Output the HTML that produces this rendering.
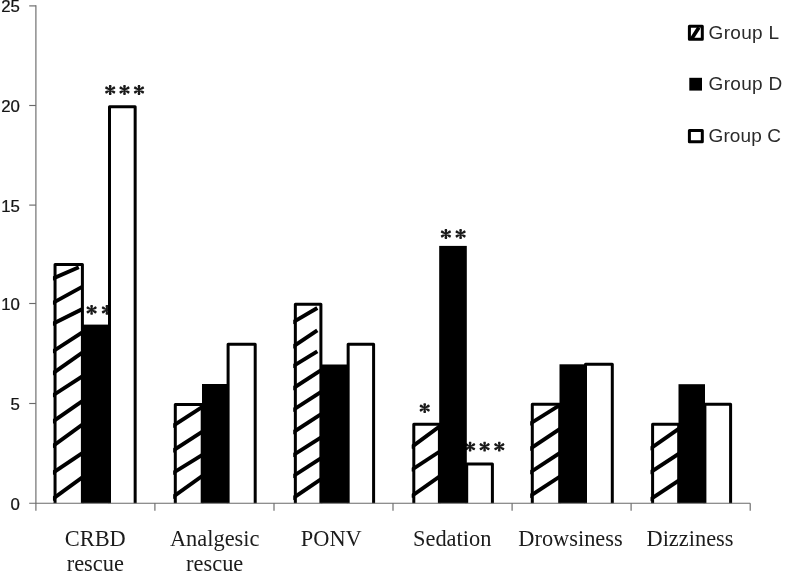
<!DOCTYPE html>
<html><head><meta charset="utf-8"><title>Chart</title>
<style>html,body{margin:0;padding:0;background:#fff;}body{width:785px;height:572px;overflow:hidden;font-family:"Liberation Sans",sans-serif;}svg{display:block;filter:grayscale(1) blur(0.45px);}</style>
</head><body>
<svg width="785" height="572" viewBox="0 0 785 572">
<defs><path id="ast" d="M0.50 0.00 L1.35 -3.60 L1.01 -4.90 L-1.01 -4.90 L-1.35 -3.60 L-0.50 -0.00Z M0.25 -0.43 L-2.96 -3.27 L-4.26 -3.63 L-5.27 -1.87 L-4.31 -0.93 L-0.25 0.43Z M-0.25 -0.43 L-4.31 0.93 L-5.27 1.87 L-4.26 3.63 L-2.96 3.27 L0.25 0.43Z M-0.50 -0.00 L-1.35 3.60 L-1.01 4.90 L1.01 4.90 L1.35 3.60 L0.50 0.00Z M-0.25 0.43 L2.96 3.27 L4.26 3.63 L5.27 1.87 L4.31 0.93 L0.25 -0.43Z M0.25 0.43 L4.31 -0.93 L5.27 -1.87 L4.26 -3.63 L2.96 -3.27 L-0.25 -0.43Z" fill="#1a1a1a"/></defs>
<rect width="785" height="572" fill="#fff"/>
<g font-family="Liberation Sans, sans-serif" font-size="16.1" fill="#151515" stroke="#151515" stroke-width="0.25" text-anchor="end">
<text transform="translate(19.9,509.8) scale(1.045,1)">0</text>
<text transform="translate(19.9,409.8) scale(1.045,1)">5</text>
<text transform="translate(19.9,309.9) scale(1.045,1)">10</text>
<text transform="translate(19.9,211.8) scale(1.045,1)">15</text>
<text transform="translate(19.9,111.8) scale(1.045,1)">20</text>
<text transform="translate(19.9,12.1) scale(1.045,1)">25</text>
</g>
<use href="#ast" x="110.2" y="90.0"/>
<use href="#ast" x="124.5" y="90.0"/>
<use href="#ast" x="139.0" y="90.0"/>
<use href="#ast" x="91.6" y="309.9"/>
<use href="#ast" x="106.9" y="309.9"/>
<use href="#ast" x="445.9" y="234.0"/>
<use href="#ast" x="460.6" y="234.0"/>
<use href="#ast" x="424.7" y="408.1"/>
<use href="#ast" x="470.1" y="446.7"/>
<use href="#ast" x="484.6" y="446.7"/>
<use href="#ast" x="499.3" y="446.7"/>
<rect x="55.05" y="264.40" width="27.35" height="238.80" fill="#fff"/>
<clipPath id="c0"><rect x="52.95" y="264.40" width="29.45" height="238.80"/></clipPath>
<g clip-path="url(#c0)" stroke="#000" stroke-width="3.9">
<line x1="52.05" y1="278.85" x2="78.80" y2="267.25"/>
<line x1="52.05" y1="303.37" x2="83.40" y2="286.18"/>
<line x1="52.05" y1="324.25" x2="83.40" y2="308.60"/>
<line x1="52.05" y1="351.93" x2="83.40" y2="331.54"/>
<line x1="52.05" y1="373.87" x2="83.40" y2="351.81"/>
<line x1="52.05" y1="395.93" x2="83.40" y2="375.54"/>
<line x1="52.05" y1="422.03" x2="83.40" y2="400.23"/>
<line x1="52.05" y1="446.58" x2="83.40" y2="423.75"/>
<line x1="52.05" y1="473.42" x2="83.40" y2="452.39"/>
<line x1="52.05" y1="499.38" x2="83.40" y2="476.55"/>
</g>
<path d="M55.05 503.2 V264.40 H82.40 V503.2" fill="none" stroke="#000" stroke-width="3.0" stroke-linejoin="round"/>
<rect x="82.20" y="324.60" width="27.60" height="178.60" fill="#000"/>
<path d="M109.50 503.2 V106.70 H135.16 V503.2 Z" fill="#fff"/>
<path d="M109.50 503.2 V106.70 H135.16 V503.2" fill="none" stroke="#000" stroke-width="3.0" stroke-linejoin="round"/>
<rect x="175.30" y="404.40" width="26.90" height="98.80" fill="#fff"/>
<clipPath id="c1"><rect x="173.20" y="404.40" width="29.00" height="98.80"/></clipPath>
<g clip-path="url(#c1)" stroke="#000" stroke-width="3.9">
<line x1="172.30" y1="426.31" x2="203.20" y2="406.35"/>
<line x1="172.30" y1="451.11" x2="203.20" y2="431.15"/>
<line x1="172.30" y1="473.38" x2="203.20" y2="454.32"/>
<line x1="172.30" y1="497.43" x2="203.20" y2="475.28"/>
</g>
<path d="M175.30 503.2 V404.40 H202.20 V503.2" fill="none" stroke="#000" stroke-width="3.0" stroke-linejoin="round"/>
<rect x="202.00" y="384.00" width="26.00" height="119.20" fill="#000"/>
<path d="M228.10 503.2 V344.30 H255.20 V503.2 Z" fill="#fff"/>
<path d="M228.10 503.2 V344.30 H255.20 V503.2" fill="none" stroke="#000" stroke-width="3.0" stroke-linejoin="round"/>
<rect x="295.35" y="304.30" width="25.55" height="198.90" fill="#fff"/>
<clipPath id="c2"><rect x="293.25" y="304.30" width="27.65" height="198.90"/></clipPath>
<g clip-path="url(#c2)" stroke="#000" stroke-width="3.9">
<line x1="292.35" y1="322.52" x2="317.30" y2="307.98"/>
<line x1="292.35" y1="347.12" x2="317.30" y2="330.38"/>
<line x1="292.35" y1="366.66" x2="317.30" y2="351.35"/>
<line x1="292.35" y1="388.82" x2="321.90" y2="369.64"/>
<line x1="292.35" y1="410.40" x2="321.90" y2="391.35"/>
<line x1="292.35" y1="432.82" x2="321.90" y2="413.64"/>
<line x1="292.35" y1="455.64" x2="321.90" y2="436.98"/>
<line x1="292.35" y1="476.72" x2="321.90" y2="457.54"/>
<line x1="292.35" y1="498.54" x2="321.90" y2="478.58"/>
</g>
<path d="M295.35 503.2 V304.30 H320.90 V503.2" fill="none" stroke="#000" stroke-width="3.0" stroke-linejoin="round"/>
<rect x="320.70" y="364.50" width="27.35" height="138.70" fill="#000"/>
<path d="M348.15 503.2 V344.20 H373.60 V503.2 Z" fill="#fff"/>
<path d="M348.15 503.2 V344.20 H373.60 V503.2" fill="none" stroke="#000" stroke-width="3.0" stroke-linejoin="round"/>
<rect x="413.80" y="424.20" width="25.60" height="79.00" fill="#fff"/>
<clipPath id="c3"><rect x="411.70" y="424.20" width="27.70" height="79.00"/></clipPath>
<g clip-path="url(#c3)" stroke="#000" stroke-width="3.9">
<line x1="410.80" y1="447.63" x2="440.40" y2="425.72"/>
<line x1="410.80" y1="470.45" x2="440.40" y2="451.02"/>
<line x1="410.80" y1="496.77" x2="440.40" y2="475.91"/>
</g>
<path d="M413.80 503.2 V424.20 H439.40 V503.2" fill="none" stroke="#000" stroke-width="3.0" stroke-linejoin="round"/>
<rect x="439.20" y="245.90" width="27.60" height="257.30" fill="#000"/>
<path d="M466.70 503.2 V464.10 H492.40 V503.2 Z" fill="#fff"/>
<path d="M466.70 503.2 V464.10 H492.40 V503.2" fill="none" stroke="#000" stroke-width="3.0" stroke-linejoin="round"/>
<rect x="532.30" y="404.30" width="27.40" height="98.90" fill="#fff"/>
<clipPath id="c4"><rect x="530.20" y="404.30" width="29.50" height="98.90"/></clipPath>
<g clip-path="url(#c4)" stroke="#000" stroke-width="3.9">
<line x1="529.30" y1="424.21" x2="560.70" y2="404.60"/>
<line x1="529.30" y1="449.41" x2="560.70" y2="428.39"/>
<line x1="529.30" y1="472.94" x2="560.70" y2="452.43"/>
<line x1="529.30" y1="496.54" x2="560.70" y2="476.03"/>
</g>
<path d="M532.30 503.2 V404.30 H559.70 V503.2" fill="none" stroke="#000" stroke-width="3.0" stroke-linejoin="round"/>
<rect x="559.50" y="364.30" width="25.50" height="138.90" fill="#000"/>
<path d="M585.50 503.2 V364.20 H612.30 V503.2 Z" fill="#fff"/>
<path d="M585.50 503.2 V364.20 H612.30 V503.2" fill="none" stroke="#000" stroke-width="3.0" stroke-linejoin="round"/>
<rect x="652.60" y="424.20" width="26.10" height="79.00" fill="#fff"/>
<clipPath id="c5"><rect x="650.50" y="424.20" width="28.20" height="79.00"/></clipPath>
<g clip-path="url(#c5)" stroke="#000" stroke-width="3.9">
<line x1="649.60" y1="449.14" x2="679.70" y2="428.12"/>
<line x1="649.60" y1="472.97" x2="679.70" y2="453.12"/>
<line x1="649.60" y1="499.77" x2="679.70" y2="479.92"/>
</g>
<path d="M652.60 503.2 V424.20 H678.70 V503.2" fill="none" stroke="#000" stroke-width="3.0" stroke-linejoin="round"/>
<rect x="678.50" y="384.20" width="26.50" height="119.00" fill="#000"/>
<path d="M704.90 503.2 V404.30 H730.60 V503.2 Z" fill="#fff"/>
<path d="M704.90 503.2 V404.30 H730.60 V503.2" fill="none" stroke="#000" stroke-width="3.0" stroke-linejoin="round"/>
<g stroke="#6a6a6a" stroke-width="1.15" fill="none">
<line x1="35.9" y1="5.2" x2="35.9" y2="510.8"/>
<line x1="29.2" y1="503.2" x2="750.2" y2="503.2"/>
<line x1="29.2" y1="403.5" x2="35.9" y2="403.5"/>
<line x1="29.2" y1="303.5" x2="35.9" y2="303.5"/>
<line x1="29.2" y1="205.1" x2="35.9" y2="205.1"/>
<line x1="29.2" y1="105.5" x2="35.9" y2="105.5"/>
<line x1="29.2" y1="5.9" x2="35.9" y2="5.9"/>
<line x1="154.9" y1="503.2" x2="154.9" y2="510.8"/>
<line x1="274.0" y1="503.2" x2="274.0" y2="510.8"/>
<line x1="393.0" y1="503.2" x2="393.0" y2="510.8"/>
<line x1="512.1" y1="503.2" x2="512.1" y2="510.8"/>
<line x1="631.1" y1="503.2" x2="631.1" y2="510.8"/>
<line x1="750.2" y1="503.2" x2="750.2" y2="510.8"/>
</g>
<g font-family="Liberation Serif, serif" font-size="22.4" fill="#1c1c1c" text-anchor="middle">
<text x="95.3" y="545.6">CRBD</text>
<text x="95.3" y="570.9">rescue</text>
<text x="214.7" y="545.6">Analgesic</text>
<text x="214.7" y="570.9">rescue</text>
<text x="331.3" y="545.6">PONV</text>
<text x="452.2" y="545.6">Sedation</text>
<text x="570.5" y="545.6">Drowsiness</text>
<text x="690.0" y="545.6">Dizziness</text>
</g>
<g font-family="Liberation Sans, sans-serif" font-size="19" fill="#2a2a2a">
<rect x="689.4" y="26.3" width="12.9" height="12.9" fill="#fff"/>
<line x1="691.5" y1="39.0" x2="698.9" y2="27.4" stroke="#000" stroke-width="3.7"/>
<rect x="689.4" y="26.3" width="12.9" height="12.9" fill="none" stroke="#000" stroke-width="3" stroke-linejoin="round"/>
<text x="708.6" y="38.9" textLength="70.5">Group L</text>
<rect x="689.3" y="77.8" width="12.7" height="12.8" fill="#000"/>
<text x="708.6" y="90.0" textLength="73.6">Group D</text>
<rect x="689.4" y="130.4" width="12.9" height="11.3" fill="#fff" stroke="#000" stroke-width="3" stroke-linejoin="round"/>
<text x="708.6" y="141.5" textLength="72.3">Group C</text>
</g>
</svg>
</body></html>
